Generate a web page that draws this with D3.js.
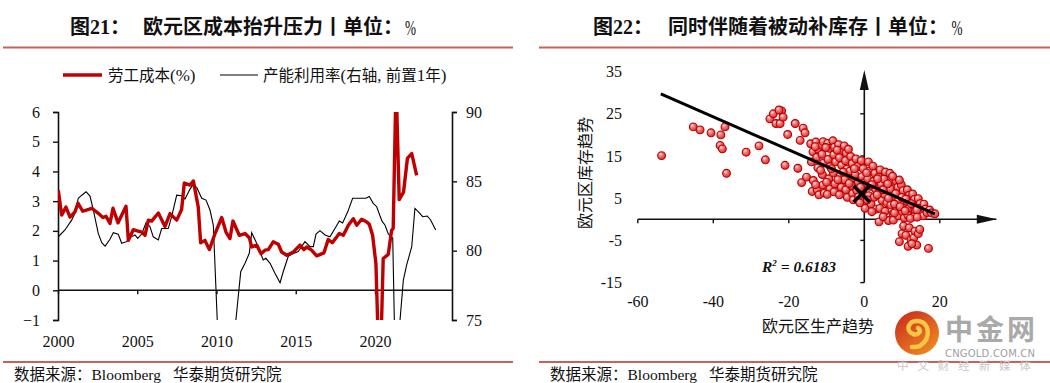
<!DOCTYPE html>
<html>
<head>
<meta charset="utf-8">
<script src="https://cdn.jsdelivr.net/npm/d3@7"></script>
<style>
    body { margin: 0; background: #fff; }
    svg text { font-family: "Liberation Serif", "Noto Sans CJK SC", serif; fill: #111; }
    .cjk { font-family: "Noto Sans CJK SC", sans-serif !important; }
</style>
</head>
<body>
<svg id="chart" width="1050" height="383"></svg>
<script>
// ---- 图21 数据 (季度, 读自原图) ----
const laborYears = [2000.02, 2000.23, 2000.5, 2000.76, 2001.07, 2001.26, 2001.56, 2002.13, 2002.52, 2002.84,
    2003.03, 2003.28, 2003.47, 2003.79, 2004.29, 2004.44, 2004.75, 2005.0, 2005.28, 2005.49,
    2005.7, 2005.91, 2006.33, 2006.75, 2007.07, 2007.49, 2007.8, 2007.97, 2008.33, 2008.54,
    2008.85, 2009.0, 2009.27, 2009.55, 2009.91, 2010.33, 2010.6, 2010.85, 2011.04, 2011.44,
    2011.8, 2012.07, 2012.22, 2012.54, 2012.81, 2013.06, 2013.27, 2013.58, 2013.9, 2014.11,
    2014.43, 2014.85, 2015.27, 2015.52, 2015.69, 2016.0, 2016.32, 2016.78, 2017.05, 2017.31,
    2017.75, 2018.0, 2018.32, 2018.63, 2018.85, 2019.16, 2019.48, 2019.64, 2019.85, 2020.06,
    2020.3, 2020.52, 2020.84, 2021.05, 2021.15, 2021.33, 2021.53, 2021.8, 2022.05, 2022.32, 2022.63];
const laborCost = [3.37, 2.53, 2.8, 2.46, 2.64, 2.93, 2.66, 2.76, 2.6, 2.45,
    2.49, 2.25, 2.76, 2.27, 2.83, 1.68, 2.04, 2.0, 1.96, 1.85,
    2.36, 2.33, 2.6, 2.15, 2.58, 2.36, 2.72, 3.61, 3.54, 3.68,
    2.8, 1.6, 1.68, 1.37, 1.91, 2.45, 1.96, 1.74, 2.33, 1.85,
    1.91, 1.77, 1.46, 1.52, 1.23, 1.35, 1.37, 1.63, 1.55, 1.29,
    1.18, 1.29, 1.52, 1.37, 1.46, 1.35, 1.16, 1.26, 1.71, 1.6,
    1.91, 1.85, 2.19, 2.41, 2.19, 2.39, 2.3, 2.22, 1.85, 0.9,
    -3.4, 1.07, 1.21, 2.02, 2.08, 7.0, 3.05, 3.3, 4.45, 4.6, 3.87];

const capYears = [2000.02, 2000.44, 2000.86, 2001.07, 2001.28, 2001.5, 2001.77, 2002.02, 2002.23, 2002.54,
    2002.76, 2002.97, 2003.28, 2003.49, 2003.8, 2004.02, 2004.33, 2004.54, 2004.86, 2005.03,
    2005.28, 2005.55, 2005.8, 2006.01, 2006.33, 2006.54, 2006.96, 2007.17, 2007.49, 2007.8,
    2008.01, 2008.33, 2008.5, 2008.75, 2009.07, 2009.34, 2009.59, 2009.8, 2010.39, 2011.53,
    2011.8, 2012.07, 2012.22, 2012.49, 2012.74, 2012.95, 2013.12, 2013.38, 2013.69, 2014.01,
    2014.21, 2014.53, 2014.85, 2015.16, 2015.58, 2015.9, 2016.11, 2016.28, 2016.53, 2016.85,
    2017.16, 2017.54, 2017.75, 2017.96, 2018.28, 2018.59, 2019.01, 2019.43, 2019.64, 2019.89,
    2020.11, 2020.32, 2020.46, 2020.63, 2020.84, 2020.99, 2021.12, 2021.29, 2021.79, 2022.0,
    2022.32, 2022.52, 2022.73, 2023.01, 2023.3, 2023.51, 2023.83];
const capUtil = [81.0, 81.49, 82.2, 82.7, 83.78, 84.0, 84.25, 83.94, 82.93, 81.25,
    80.57, 80.33, 80.82, 81.3, 81.18, 80.53, 80.65, 80.96, 81.13, 80.89,
    81.2, 82.0, 81.73, 81.0, 80.77, 81.6, 81.6, 82.45, 84.0, 83.96,
    83.72, 84.44, 84.73, 84.56, 83.78, 83.65, 82.93, 81.85, 65.5, 78.48,
    79.09, 79.81, 81.3, 80.65, 79.93, 79.33, 79.45, 79.09, 78.37, 77.69,
    78.48, 79.6, 79.8, 79.93, 80.65, 80.29, 80.29, 81.2, 81.44, 81.13,
    81.0, 81.73, 82.14, 82.0, 82.8, 83.78, 83.78, 83.78, 83.9, 83.41,
    83.17, 82.5, 82.09, 81.85, 81.2, 81.06, 80.89, 71.0, 77.88, 78.97,
    80.29, 83.05, 82.81, 82.45, 82.5, 82.21, 81.49];

const leftTicks = [-1, 0, 1, 2, 3, 4, 5, 6];
const rightTicks = [75, 80, 85, 90];
const yearTicks = [2000, 2005, 2010, 2015, 2020];

// ---- 图22 数据: [欧元区生产趋势, 欧元区库存趋势] ----
const scatterPts = [
    [-53.7, 15.1], [-45.3, 21.9], [-43.5, 21.2], [-40.6, 20.5], [-38.0, 20.0], [-36.9, 21.9],
    [-38.2, 17.5], [-37.6, 16.7], [-36.5, 10.9], [-31.3, 15.9], [-27.9, 17.4], [-26.2, 14.1],
    [-25.0, 23.8], [-24.1, 25.0], [-23.4, 22.7], [-22.3, 22.7], [-21.9, 25.7], [-21.5, 24.2],
    [-22.6, 25.9], [-21.0, 12.8], [-20.3, 20.1], [-18.3, 22.7], [-17.0, 18.7], [-17.6, 12.1],
    [-16.6, 8.7], [-16.2, 21.6], [-15.7, 20.5], [-15.3, 10.0],
    [-14.2, 17.9], [-13.6, 16.0], [-14.0, 13.6], [-13.5, 9.2], [-13.8, 6.6],
    [-12.8, 18.3], [-12.2, 16.6], [-12.6, 14.7], [-12.3, 12.2], [-12.5, 7.0], [-12.0, 5.8],
    [-11.4, 17.6], [-10.9, 18.4], [-11.2, 15.4], [-10.8, 13.3], [-11.1, 10.6], [-11.0, 8.1], [-10.6, 6.2],
    [-9.7, 18.0], [-9.2, 16.8], [-9.6, 14.2], [-9.0, 12.5], [-9.4, 9.6], [-9.1, 7.2], [-9.8, 5.9],
    [-8.3, 18.6], [-7.9, 17.1], [-8.1, 15.3], [-7.6, 13.6], [-8.2, 11.0], [-7.8, 8.4], [-8.0, 6.5],
    [-6.8, 17.7], [-6.2, 16.2], [-6.6, 14.6], [-6.0, 12.8], [-6.4, 10.2], [-6.1, 7.6], [-6.6, 5.8],
    [-5.3, 17.4], [-4.8, 15.7], [-5.0, 13.9], [-4.6, 11.9], [-5.2, 9.4], [-4.9, 7.0], [-4.5, 5.2],
    [-3.6, 14.9], [-3.2, 13.2], [-3.8, 11.4], [-3.0, 9.8], [-3.4, 8.0], [-3.1, 6.1], [-2.9, 4.6],
    [-2.2, 14.3], [-1.8, 12.5], [-2.4, 10.6], [-1.6, 8.9], [-2.0, 6.8], [-1.5, 5.3],
    [-0.8, 13.9], [-0.3, 12.0], [-0.6, 10.1], [0.0, 8.6], [-0.4, 6.9], [0.2, 4.4], [0.2, 2.6],
    [1.1, 13.6], [1.4, 11.4], [0.9, 9.6], [1.6, 7.8], [1.2, 5.6], [1.8, 3.6],
    [2.3, 12.6], [2.8, 10.9], [2.5, 9.0], [3.0, 7.1], [2.6, 5.2], [3.2, 2.4],
    [4.2, 11.7], [3.8, 10.0], [4.5, 8.3], [4.0, 6.6], [4.7, 4.5], [4.1, 2.6], [3.9, -0.6],
    [5.6, 11.2], [5.2, 9.5], [5.9, 7.6], [5.4, 5.9], [6.0, 3.9], [5.5, 1.9], [6.4, -0.3],
    [6.8, 10.9], [7.3, 9.0], [6.9, 7.2], [7.5, 5.4], [7.0, 3.4], [7.6, 1.3], [7.7, -0.2],
    [8.4, 9.1], [8.9, 7.6], [8.3, 6.1], [9.0, 4.4], [8.6, 2.6], [9.1, 0.8],
    [9.8, 8.2], [10.3, 6.8], [9.9, 5.2], [10.5, 3.5], [10.1, 1.8], [10.6, 0.3],
    [11.4, 7.0], [11.9, 5.7], [11.3, 4.2], [12.0, 2.8], [11.5, 1.0],
    [12.8, 6.0], [13.3, 4.7], [12.9, 3.3], [13.5, 1.9], [13.0, 0.6],
    [14.3, 4.9], [14.8, 3.7], [14.4, 2.6], [15.0, 1.3],
    [15.8, 3.6], [16.2, 2.4], [15.6, 0.8], [16.6, 1.6],
    [17.3, 2.2], [17.8, 1.5], [18.7, 1.3],
    [-13.0, 17.2], [-10.2, 17.0], [-7.2, 16.4], [-4.2, 16.6], [-11.6, 11.6], [-8.7, 12.0], [-5.6, 11.2],
    [-2.6, 12.0], [-12.9, 8.2], [-10.0, 8.8], [-7.0, 9.4], [-4.0, 8.5], [-1.0, 7.6], [0.6, 11.0],
    [2.0, 8.2], [3.4, 5.8], [5.0, 7.0], [6.4, 5.0], [8.0, 3.6], [9.5, 3.0], [11.0, 4.8], [12.4, 3.7],
    [13.9, 2.2], [6.2, 8.4], [3.5, 9.6], [0.8, 4.6], [-1.2, 3.9], [2.0, 1.8], [5.0, 0.6], [8.0, 1.5],
    [10.8, 2.0], [12.2, 0.2], [14.0, 0.5], [7.5, 10.2], [9.3, 9.3],
    [9.3, -5.3], [10.0, -3.4], [10.4, -1.6], [11.0, -3.8], [11.6, -6.4], [11.9, -2.0], [12.4, -4.8],
    [13.1, -4.4], [13.4, -2.8], [13.9, -6.1], [14.3, -3.4], [14.7, -2.4], [12.6, -5.8], [17.0, -6.9]
];
const trendLine = [[-53.9, 29.7], [18.7, 1.3]];
const meanPoint = [-0.7, 6.0];
const scatterXTicks = [-60, -40, -20, 0, 20];
const scatterYTicks = [-15, -5, 5, 15, 25, 35];
const r2Value = "0.6183";

const svg = d3.select("#chart");
svg.append("rect").attr("width", 1050).attr("height", 383).attr("fill", "#fff");
const defs = svg.append("defs");

// ---- 공통: 제목, 구분선, 출처 ----
function frame(x0, x1, figNo, figX, title, titleX, pctX) {
    const t = svg.append("text").attr("x", figX).attr("y", 34)
        .attr("font-size", 20).attr("font-weight", "bold");
    t.append("tspan").attr("class", "cjk").text("图");
    t.append("tspan").text(figNo);
    t.append("tspan").attr("class", "cjk").text("：");
    svg.append("text").attr("class", "cjk").attr("x", titleX).attr("y", 34)
        .attr("font-size", 20).attr("font-weight", "bold").text(title);
    svg.append("text").attr("x", pctX).attr("y", 35).style("font-size", "22px")
        .attr("textLength", 11).attr("lengthAdjust", "spacingAndGlyphs").text("%");

    svg.append("line").attr("x1", x0).attr("x2", x1).attr("y1", 47.5).attr("y2", 47.5)
        .attr("stroke", "#c0504d").attr("stroke-width", 2).attr("opacity", 0.9);
    svg.append("line").attr("x1", x0).attr("x2", x1).attr("y1", 362).attr("y2", 362)
        .attr("stroke", "#c0504d").attr("stroke-width", 2).attr("opacity", 0.9);

    const s = svg.append("text").attr("x", x0 + 11).attr("y", 380).attr("font-size", 15.5);
    s.append("tspan").attr("class", "cjk").text("数据来源：");
    s.append("tspan").text("Bloomberg");
    s.append("tspan").attr("class", "cjk").attr("dx", 12).text("华泰期货研究院");
}
frame(3, 513, "21", 70, "欧元区成本抬升压力丨单位：", 143, 405);
frame(539, 1050, "22", 593, "同时伴随着被动补库存丨单位：", 668, 951.5);

// ---- 图21 ----
const xL = d3.scaleLinear().domain([2000, 2024.86]).range([58, 452]);
const yL = d3.scaleLinear().domain([-1, 6]).range([320, 112]);
const yR = d3.scaleLinear().domain([75, 90]).range([320, 112]);

defs.append("clipPath").attr("id", "clipL").append("rect")
    .attr("x", 58).attr("y", 112).attr("width", 394).attr("height", 208);

const gL = svg.append("g");
const axL = gL.append("g").attr("transform", "translate(58,0)")
    .call(d3.axisLeft(yL).tickValues(leftTicks).tickSize(5).tickPadding(13).tickFormat(d3.format("d")));
const axR = gL.append("g").attr("transform", "translate(452,0)")
    .call(d3.axisRight(yR).tickValues(rightTicks).tickSize(5).tickPadding(9));
const axB = gL.append("g").attr("transform", `translate(0,${yL(0)})`)
    .call(d3.axisBottom(xL).tickValues(yearTicks).tickSize(4).tickPadding(41).tickFormat(d3.format("d")));
[axL, axR, axB].forEach(a => {
    a.select(".domain").attr("stroke", "#111").attr("stroke-width", 1.6);
    a.selectAll(".tick line").attr("stroke", "#111").attr("stroke-width", 1.4);
    a.selectAll(".tick text").attr("font-size", 16).attr("fill", "#111")
        .attr("font-family", "Liberation Serif, serif");
});
axB.select(".domain").attr("d", `M58,0H452`);

const capLine = d3.line().x((d, i) => xL(capYears[i])).y(d => yR(d));
gL.append("path").datum(capUtil).attr("d", capLine).attr("clip-path", "url(#clipL)")
    .attr("fill", "none").attr("stroke", "#000").attr("stroke-width", 1.1);

const laborLine = d3.line().x((d, i) => xL(laborYears[i])).y(d => yL(d));
gL.append("path").datum(laborCost).attr("d", laborLine).attr("clip-path", "url(#clipL)")
    .attr("fill", "none").attr("stroke", "#c00000").attr("stroke-width", 3.4)
    .attr("stroke-linejoin", "round");

// legend
const lg = svg.append("g");
lg.append("line").attr("x1", 63).attr("x2", 102).attr("y1", 75).attr("y2", 75)
    .attr("stroke", "#c00000").attr("stroke-width", 3.5);
const lt1 = lg.append("text").attr("x", 108).attr("y", 80.5);
lt1.append("tspan").attr("class", "cjk").style("font-size", "15.5px").text("劳工成本");
lt1.append("tspan").style("font-size", "17px").text("(%)");
lg.append("line").attr("x1", 220).attr("x2", 258).attr("y1", 75).attr("y2", 75)
    .attr("stroke", "#000").attr("stroke-width", 1);
const lt2 = lg.append("text").attr("x", 263).attr("y", 80.5).style("font-size", "17px");
[["产能利用率", true], ["(", false], ["右轴", true], [", ", false], ["前置", true], ["1", false], ["年", true], [")", false]]
    .forEach(([s, c]) => {
        const sp = lt2.append("tspan").text(s);
        if (c) sp.attr("class", "cjk").style("font-size", "15.5px");
    });

// ---- 图22 ----
const xS = d3.scaleLinear().domain([-60, 0]).range([637.8, 864.3]);
const yS = d3.scaleLinear().domain([-15, 35]).range([282.6, 71.6]);
const gS = svg.append("g");

const grad = defs.append("radialGradient").attr("id", "dotFill")
    .attr("cx", "42%").attr("cy", "40%").attr("r", "62%").attr("fx", "35%").attr("fy", "30%");
grad.append("stop").attr("offset", "0%").attr("stop-color", "#ffe4e4");
grad.append("stop").attr("offset", "40%").attr("stop-color", "#f27c7c");
grad.append("stop").attr("offset", "100%").attr("stop-color", "#dc2a2a");

// axes through origin
gS.append("line").attr("x1", xS(-60)).attr("x2", xS(35)).attr("y1", yS(0)).attr("y2", yS(0))
    .attr("stroke", "#111").attr("stroke-width", 1.6);
gS.append("path")
    .attr("d", `M${xS(35.1)},${yS(0)}L${xS(35.1) - 20},${yS(0) - 4.5}L${xS(35.1) - 20},${yS(0) + 4.5}Z`)
    .attr("fill", "#111");
gS.append("line").attr("x1", xS(0)).attr("x2", xS(0)).attr("y1", yS(-15)).attr("y2", yS(34))
    .attr("stroke", "#111").attr("stroke-width", 1.6);
gS.append("path")
    .attr("d", `M${xS(0)},${yS(35.4)}L${xS(0) - 4.5},${yS(35.4) + 20}L${xS(0) + 4.5},${yS(35.4) + 20}Z`)
    .attr("fill", "#111");

scatterXTicks.filter(d => d !== 0).forEach(d => {
    gS.append("line").attr("x1", xS(d)).attr("x2", xS(d)).attr("y1", yS(0)).attr("y2", yS(0) + 4)
        .attr("stroke", "#111").attr("stroke-width", 1.4);
});
scatterYTicks.filter(d => d !== 35).forEach(d => {
    gS.append("line").attr("x1", xS(0) - 4).attr("x2", xS(0)).attr("y1", yS(d)).attr("y2", yS(d))
        .attr("stroke", "#111").attr("stroke-width", 1.4);
});
gS.selectAll(".xlab").data(scatterXTicks).enter().append("text")
    .attr("x", d => xS(d)).attr("y", 307).attr("text-anchor", "middle").attr("font-size", 16)
    .text(d => d);
gS.selectAll(".ylab").data(scatterYTicks).enter().append("text")
    .attr("x", 622).attr("y", d => yS(d) + 5.5).attr("text-anchor", "end").attr("font-size", 16)
    .text(d => d);

gS.selectAll("circle.pt").data(scatterPts).enter().append("circle")
    .attr("class", "pt")
    .attr("cx", d => xS(d[0])).attr("cy", d => yS(d[1])).attr("r", 3.9)
    .attr("fill", "url(#dotFill)").attr("stroke", "#b80000").attr("stroke-width", 1.1);

gS.append("line")
    .attr("x1", xS(trendLine[0][0])).attr("y1", yS(trendLine[0][1]))
    .attr("x2", xS(trendLine[1][0])).attr("y2", yS(trendLine[1][1]))
    .attr("stroke", "#000").attr("stroke-width", 3);

const mx = xS(meanPoint[0]), my = yS(meanPoint[1]);
gS.append("path").attr("d", `M${mx - 8},${my - 8}L${mx + 8},${my + 8}M${mx - 8},${my + 8}L${mx + 8},${my - 8}`)
    .attr("stroke", "#000").attr("stroke-width", 3.5);

const r2 = gS.append("text").attr("x", 762).attr("y", 272).attr("font-size", 15.5)
    .attr("font-weight", "bold").attr("font-style", "italic");
r2.append("tspan").text("R");
r2.append("tspan").attr("font-size", 9).attr("dy", -6).text("2");
r2.append("tspan").attr("dy", 6).text(" = " + r2Value);

gS.append("text").attr("class", "cjk").attr("x", 818).attr("y", 332).attr("text-anchor", "middle")
    .attr("font-size", 16).text("欧元区生产趋势");
gS.append("text").attr("class", "cjk").attr("transform", "translate(591,173) rotate(-90)")
    .attr("text-anchor", "middle").attr("font-size", 16).text("欧元区库存趋势");

// watermark
const wm = svg.append("g");
const wg = defs.append("linearGradient").attr("id", "wmGrad")
    .attr("x1", "0%").attr("y1", "0%").attr("x2", "80%").attr("y2", "100%");
wg.append("stop").attr("offset", "0%").attr("stop-color", "#c7261d");
wg.append("stop").attr("offset", "100%").attr("stop-color", "#f08a22");
wm.append("circle").attr("cx", 917).attr("cy", 333).attr("r", 22).attr("fill", "url(#wmGrad)");
wm.append("path")
    .attr("d", "M921,345 C931,338 930,322 918,321 C908,320 905,331 913,334 C919,336 922,330 918,328 M912,347 C918,347 921,346 921,345")
    .attr("fill", "none").attr("stroke", "#f7c845").attr("stroke-width", 4.5).attr("stroke-linecap", "round");
wm.append("text").attr("class", "cjk").attr("x", 945).attr("y", 340).attr("font-size", 28)
    .attr("font-weight", "bold").style("fill", "#a9a9a9").attr("textLength", 90).text("中金网");
wm.append("text").attr("x", 945).attr("y", 357).attr("font-size", 10)
    .style("font-family", "DejaVu Sans, sans-serif").style("fill", "#a0a0a0")
    .attr("textLength", 90).text("CNGOLD.COM.CN");
wm.append("text").attr("class", "cjk").attr("x", 897).attr("y", 370).attr("font-size", 11.5)
    .style("fill", "#c8c8c8").attr("textLength", 134).text("中文财经新媒体");
</script>
</body>
</html>
